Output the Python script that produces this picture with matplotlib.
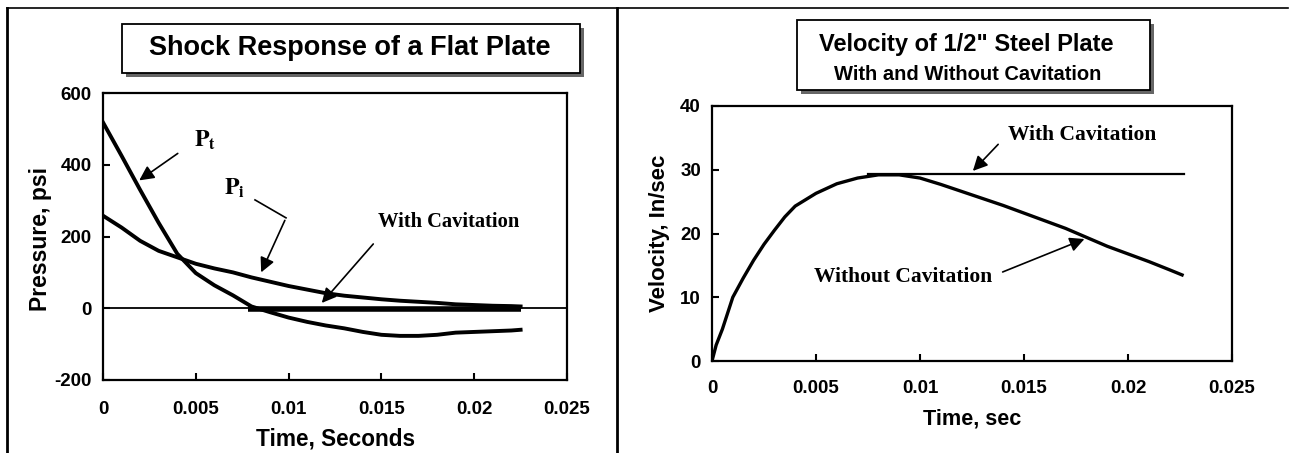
import numpy as np
import matplotlib.pyplot as plt
from matplotlib.patches import Rectangle
from matplotlib.lines import Line2D

# left panel: pressure vs time
t_left = [0, 0.001, 0.002, 0.003, 0.004, 0.005, 0.006, 0.007, 0.008, 0.009, 0.010, 0.011,
          0.012, 0.013, 0.014, 0.015, 0.016, 0.017, 0.018, 0.019, 0.020, 0.021, 0.022, 0.0225]
p_total = [518, 425, 330, 238, 152, 98, 64, 36, 5, -11, -26, -38,
           -48, -56, -66, -74, -77, -77, -74, -68, -66, -64, -62, -60]
p_incident = [258, 225, 188, 160, 142, 124, 111, 100, 86, 74, 62, 52,
              42, 35, 30, 25, 21, 18, 15, 11, 9, 7, 6, 5]
t_cav_left = [0.0078, 0.0225]
p_cav_left = [-3, -3]

# right panel: velocity vs time
t_right = [0, 0.0002, 0.0005, 0.001, 0.0015, 0.002, 0.0025, 0.003, 0.0035, 0.004, 0.005,
           0.006, 0.007, 0.008, 0.009, 0.010, 0.011, 0.012, 0.013, 0.014, 0.015, 0.016,
           0.017, 0.018, 0.019, 0.020, 0.021, 0.022, 0.0226]
v_without = [0, 2.5, 5, 10, 13, 15.8, 18.3, 20.5, 22.6, 24.3, 26.3,
             27.8, 28.7, 29.2, 29.2, 28.7, 27.7, 26.6, 25.5, 24.4, 23.2, 22.0,
             20.8, 19.4, 18.0, 16.8, 15.6, 14.3, 13.5]
t_cav_right = [0.0075, 0.0227]
v_with = [29.3, 29.3]

x_ticks = [0, 0.005, 0.01, 0.015, 0.02, 0.025]
x_ticklabels = ['0', '0.005', '0.01', '0.015', '0.02', '0.025']
p_ticks = [-200, 0, 200, 400, 600]
v_ticks = [0, 10, 20, 30, 40]

plt.rcParams['font.family'] = ['Liberation Sans', 'DejaVu Sans']
plt.rcParams['font.weight'] = 'bold'
plt.rcParams['mathtext.fontset'] = 'stix'
plt.rcParams['axes.unicode_minus'] = False

W, H = 1289, 453
fig = plt.figure(figsize=(W / 100, H / 100), dpi=100)


def fx(px):
    return px / W


def fy(py):
    return 1 - py / H


def box_axes(x0, y0, x1, y1):
    return fig.add_axes([fx(x0), fy(y1), fx(x1) - fx(x0), fy(y0) - fy(y1)])


serif = dict(family='Liberation Serif', weight='bold')
arrow = dict(arrowstyle='-|>', color='black', lw=1.2, mutation_scale=22)

# frame lines round the two panels
fig.add_artist(Line2D([fx(7), fx(1288)], [fy(8), fy(8)], color='black', lw=1.2))
fig.add_artist(Line2D([fx(7), fx(7)], [fy(8), fy(453)], color='black', lw=2))
fig.add_artist(Line2D([fx(617), fx(617)], [fy(8), fy(453)], color='black', lw=2))


def title_box(x0, y0, x1, y1):
    fig.add_artist(Rectangle((fx(x0 + 4), fy(y1 + 4)), fx(x1 - x0), fy(y0) - fy(y1),
                             facecolor='#666666', edgecolor='none'))
    fig.add_artist(Rectangle((fx(x0), fy(y1)), fx(x1 - x0), fy(y0) - fy(y1),
                             facecolor='white', edgecolor='black', lw=1.3))


title_box(122, 24, 580, 73)
fig.text(fx(350), fy(48), 'Shock Response of a Flat Plate', ha='center', va='center',
         fontsize=19.5, weight='bold')

title_box(797, 20, 1150, 90)
fig.text(fx(966), fy(45), 'Velocity of 1/2" Steel Plate', ha='center', va='center',
         fontsize=17, weight='bold')
fig.text(fx(968), fy(74), 'With and Without Cavitation', ha='center', va='center',
         fontsize=14.5, weight='bold')


def style_axes(ax):
    for s in ax.spines.values():
        s.set_linewidth(1.6)
    ax.set_xlim(0, 0.025)
    ax.set_xticks(x_ticks)
    ax.set_xticklabels(x_ticklabels)
    ax.tick_params(direction='in', length=5, width=1.5, labelsize=13.5, top=False, right=False)
    for lab in ax.get_xticklabels() + ax.get_yticklabels():
        lab.set_fontweight('bold')


# ---- left chart
ax1 = box_axes(103, 93, 567, 380)
style_axes(ax1)
ax1.set_ylim(-200, 600)
ax1.set_yticks(p_ticks)
ax1.tick_params(axis='x', pad=15)
ax1.tick_params(axis='y', pad=8)
ax1.axhline(0, color='black', lw=1.3)
ax1.plot(t_left, p_total, color='black', lw=2.8)
ax1.plot(t_left, p_incident, color='black', lw=2.8)
ax1.plot(t_cav_left, p_cav_left, color='black', lw=4, solid_capstyle='butt')
ax1.set_xlabel('Time, Seconds', fontsize=16.3, weight='bold')
ax1.set_ylabel('Pressure, psi', fontsize=16.5, weight='bold')
ax1.xaxis.label.set_va('center')
ax1.xaxis.set_label_coords(0.5, -0.205)
ax1.yaxis.label.set_va('center')
ax1.yaxis.set_label_coords(-0.135, 0.49)

ax1.annotate('', xy=(0.00183, 352), xytext=(0.00415, 436), arrowprops=arrow)
ax1.text(0.0055, 469, r'$\mathbf{P_t}$', fontsize=17, ha='center', va='center')
ax1.text(0.0071, 335, r'$\mathbf{P_i}$', fontsize=17, ha='center', va='center')
ax1.plot([0.00819, 0.00986], [302, 252], color='black', lw=1.2)
ax1.annotate('', xy=(0.00846, 93), xytext=(0.00986, 252), arrowprops=arrow)
ax1.text(0.0186, 240, 'With Cavitation', ha='center', va='center', fontsize=14.8, **serif)
ax1.annotate('', xy=(0.01169, 9), xytext=(0.01466, 185), arrowprops=arrow)

# ---- right chart
ax2 = box_axes(712, 106, 1232, 361)
style_axes(ax2)
ax2.set_ylim(0, 40)
ax2.set_yticks(v_ticks)
ax2.tick_params(axis='x', pad=14)
ax2.tick_params(axis='y', pad=8)
ax2.plot(t_right, v_without, color='black', lw=2.4)
ax2.plot(t_cav_right, v_with, color='black', lw=1.6)
ax2.set_xlabel('Time, sec', fontsize=15.6, weight='bold')
ax2.set_ylabel('Velocity, In/sec', fontsize=16, weight='bold')
ax2.xaxis.label.set_va('center')
ax2.xaxis.set_label_coords(0.5, -0.227)
ax2.yaxis.label.set_va('center')
ax2.yaxis.set_label_coords(-0.1, 0.5)

ax2.text(0.0178, 35.4, 'With Cavitation', ha='center', va='center', fontsize=15.5, **serif)
ax2.annotate('', xy=(0.01245, 29.5), xytext=(0.01385, 34.3), arrowprops=arrow)
ax2.text(0.0092, 13.2, 'Without Cavitation', ha='center', va='center', fontsize=15.5, **serif)
ax2.annotate('', xy=(0.01803, 19.3), xytext=(0.01385, 13.8), arrowprops=arrow)

fig.savefig('out.png', dpi=100)
